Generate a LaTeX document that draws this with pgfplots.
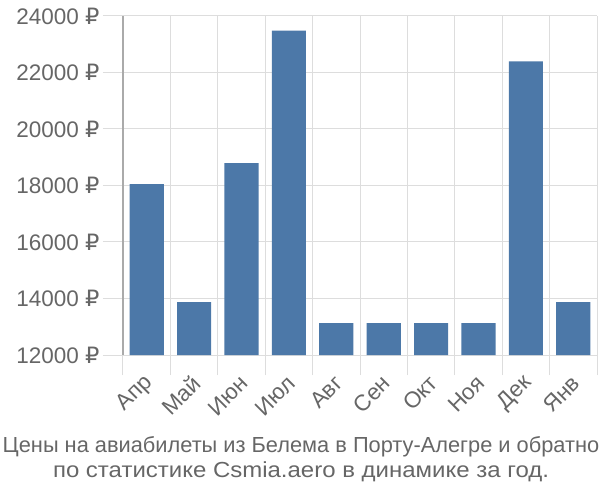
\documentclass[border=0pt]{standalone}
\usepackage{fontspec}
\setmainfont{Liberation Sans}
\newfontfamily\rublefont{DejaVu Sans}
\usepackage{pgfplots}
\pgfplotsset{compat=1.18}
\definecolor{barblue}{RGB}{76,120,168}
\definecolor{gridgray}{RGB}{221,221,221}
\definecolor{axisgray}{RGB}{170,170,170}
\definecolor{textgray}{RGB}{102,102,102}
\newcommand{\rub}{{\rublefont ₽}}

\begin{document}
\begin{tikzpicture}
\useasboundingbox (-123bp,-145bp) rectangle (477bp,355bp);
\begin{axis}[
    at={(0,0)}, anchor=south west,
    scale only axis,
    width=474bp, height=339bp,
    ybar, bar width=0.72,
    xmin=-0.5, xmax=9.5,
    ymin=12000, ymax=24000,
    scaled y ticks=false,
    xtick={0,...,9},
    xticklabels={Апр,Май,Июн,Июл,Авг,Сен,Окт,Ноя,Дек,Янв},
    minor xtick={-0.5,0.5,...,9.5},
    ytick={12000,14000,...,24000},
    yticklabels={12000 \rub,14000 \rub,16000 \rub,18000 \rub,20000 \rub,22000 \rub,24000 \rub},
    xminorgrids=true, ymajorgrids=true,
    grid style={gridgray, line width=1bp},
    minor grid style={gridgray, line width=1bp},
    tick align=outside,
    major tick length=20bp, minor tick length=20bp,
    every major x tick/.style={draw=none},
    every minor x tick/.style={gridgray, line width=1bp},
    every major y tick/.style={gridgray, line width=1bp},
    axis lines*=left,
    x axis line style={draw=none},
    y axis line style={axisgray, line width=1.5bp, -},
    ticklabel style={font=\fontsize{22.5bp}{26bp}\selectfont, text=textgray},
    xticklabel style={rotate=45, anchor=east, xshift=2bp, yshift=-5bp},
    yticklabel style={xshift=0bp},
    clip=true,
]
\addplot[fill=barblue, draw=none] coordinates {
    (0,18050) (1,13870) (2,18790) (3,23480) (4,13130)
    (5,13130) (6,13130) (7,13130) (8,22390) (9,13870)
};
\end{axis}
\node[align=center, text=textgray, font=\fontsize{21.8bp}{25bp}\selectfont]
    at (178bp,-104bp) {Цены на авиабилеты из Белема в Порту-Алегре и обратно\\\scalebox{1.1}[1]{по статистике Csmia.aero в динамике за год.}};
\end{tikzpicture}
\end{document}
